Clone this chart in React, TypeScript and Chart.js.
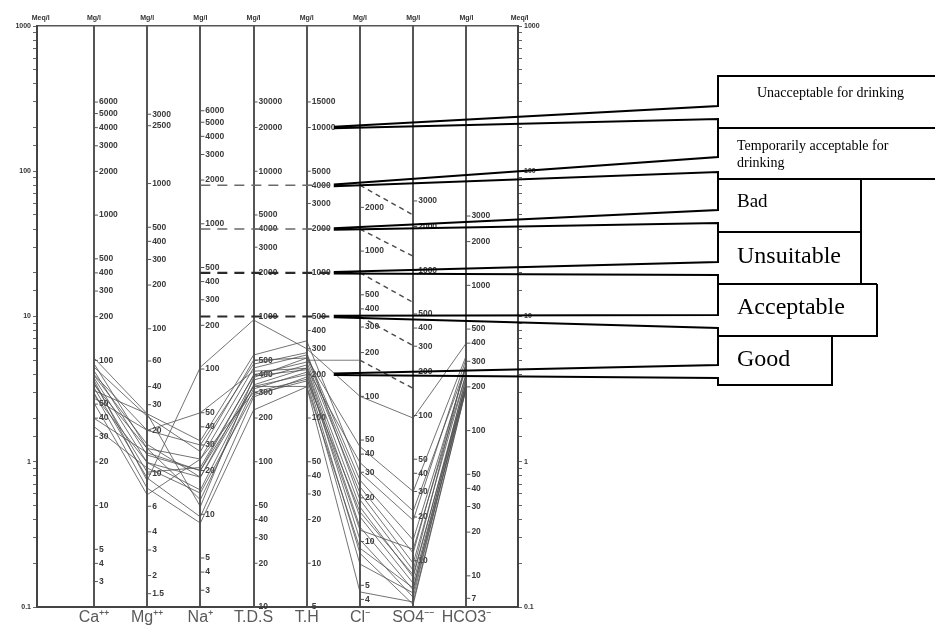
import React, { useEffect, useRef } from "react";
import { Chart, registerables } from "chart.js";

Chart.register(...registerables);

// ---------- categories & conversion (mg/l per plotted meq/l unit) ----------
const CATEGORIES = ["Ca⁺⁺", "Mg⁺⁺", "Na⁺", "T.D.S", "T.H", "Cl⁻", "SO4⁻⁻", "HCO3⁻"];
const MG_PER_UNIT = [20.04, 12.15, 23.0, 100, 50, 35.45, 48.03, 61.02];
// column positions on the x scale (1-based, in CATEGORIES order)
const COL_NA = 3;
const COL_TH = 5;
const COL_CL = 6;
const COL_SO4 = 7;

// ---------- sample concentrations (mg/l), one entry per water sample ----------
const CA = [104, 95, 90, 85, 80, 79, 76, 73, 70, 68, 65, 62, 60, 58, 55, 51, 40, 35];
const MG = [26, 15, 25, 13.5, 20, 16, 12, 9, 10.3, 15, 9.4, 26, 8, 12, 20, 7.2, 14, 11];
const NA = [32, 24, 27, 20, 30, 18, 14.7, 103, 21, 12.6, 9.6, 11.3, 8.7, 18, 50, 24, 20, 14];
const TDS = [543, 442, 500, 396, 470, 365, 338, 946, 390, 317, 279, 380, 227, 330, 420, 300, 330, 290];
const TH = [340, 272, 259, 243, 282, 232, 221, 300, 215, 207, 192, 259, 164, 199, 220, 185, 165, 180];
const CL = [30, 26.5, 23.8, 21.6, 19.4, 17.3, 14.8, 100, 12.6, 10.3, 8.3, 45, 4.5, 12, 35, 16, 9, 7];
const SO4 = [19, 13.9, 11.3, 9.6, 8.6, 7.7, 7.0, 96, 6.3, 5.6, 5.0, 30, 5.2, 12, 22, 8, 6.5, 6];
const HCO3 = [316, 274, 290, 249, 300, 230, 213, 401, 240, 220, 197, 330, 197, 250, 280, 213, 200, 205];

// ---------- column scale labels (mg/l) ----------
const CA_TICKS = [6000, 5000, 4000, 3000, 2000, 1000, 500, 400, 300, 200, 100, 50, 40, 30, 20, 10, 5, 4, 3];
const MG_TICKS = [3000, 2500, 1000, 500, 400, 300, 200, 100, 60, 40, 30, 20, 10, 6, 4, 3, 2, 1.5];
const NA_TICKS = [6000, 5000, 4000, 3000, 2000, 1000, 500, 400, 300, 200, 100, 50, 40, 30, 20, 10, 5, 4, 3];
const TDS_TICKS = [30000, 20000, 10000, 5000, 4000, 3000, 2000, 1000, 500, 400, 300, 200, 100, 50, 40, 30, 20, 10];
const TH_TICKS = [15000, 10000, 5000, 4000, 3000, 2000, 1000, 500, 400, 300, 200, 100, 50, 40, 30, 20, 10, 5];
const CL_TICKS = [2000, 1000, 500, 400, 300, 200, 100, 50, 40, 30, 20, 10, 5, 4];
const SO4_TICKS = [3000, 2000, 1000, 500, 400, 300, 200, 100, 50, 40, 30, 20, 10];
const HCO3_TICKS = [3000, 2000, 1000, 500, 400, 300, 200, 100, 50, 40, 30, 20, 10, 7];
const COLUMN_TICKS = [CA_TICKS, MG_TICKS, NA_TICKS, TDS_TICKS, TH_TICKS, CL_TICKS, SO4_TICKS, HCO3_TICKS];

// ---------- quality class boundaries (meq/l positions) ----------
const LEVEL_LINES = [80, 40, 20, 10]; // horizontal dashed, Na -> T.H
const CL_BOUNDS = [80, 40, 20, 10, 5];
const SO4_BOUNDS = [50, 26, 12.5, 6.3, 3.2];
const GOOD_LEVEL = 5;
const POINTER_LEVELS = [200, 80, 40, 20, 10, 4]; // T.H scale points of the class callouts
const CLASS_LABELS = [
  ["Unacceptable for drinking"],
  ["Temporarily acceptable for", "drinking"],
  ["Bad"],
  ["Unsuitable"],
  ["Acceptable"],
  ["Good"],
];

// ---------- callout box layout (pixels) ----------
const BOX_LEFT = 718;
const POINTER_OFFSET = 27;
const BOX_LAYOUT = [
  { top: 76, upper: 106, lower: 119, bottom: 128, right: 945, size: 14, tx: 757, ty: [93] },
  { top: 128, upper: 157, lower: 172, bottom: 179, right: 945, size: 14, tx: 737, ty: [146, 163] },
  { top: 179, upper: 210, lower: 223, bottom: 232, right: 861, size: 19, tx: 737, ty: [202] },
  { top: 232, upper: 262, lower: 275, bottom: 284, right: 861, size: 24, tx: 737, ty: [257] },
  { top: 284, upper: 315, lower: 328, bottom: 336, right: 877, size: 24, tx: 737, ty: [308] },
  { top: 336, upper: 365, lower: 378, bottom: 385, right: 832, size: 24, tx: 737, ty: [360] },
];

const fmt = (v: number) => String(v);
const isDecade = (v: number) => Math.abs(Math.log10(v) - Math.round(Math.log10(v))) < 1e-6;

const columnTicksPlugin = {
  id: "columnTicks",
  beforeDatasetsDraw(chart: any) {
    const { ctx } = chart;
    const xs = chart.scales.x;
    const ys = chart.scales.y;
    ctx.save();
    ctx.font = "bold 8.5px Arial, 'Liberation Sans', sans-serif";
    ctx.fillStyle = "#3a3a3a";
    ctx.strokeStyle = "#555";
    ctx.lineWidth = 1;
    ctx.textBaseline = "middle";
    ctx.textAlign = "left";
    COLUMN_TICKS.forEach((ticks, c) => {
      const x = xs.getPixelForValue(c + 1);
      ticks.forEach((v) => {
        const y = ys.getPixelForValue(v / MG_PER_UNIT[c]);
        ctx.beginPath();
        ctx.moveTo(x, y);
        ctx.lineTo(x + 4, y);
        ctx.stroke();
        ctx.fillText(fmt(v), x + 5, y);
      });
    });
    ctx.restore();
  },
};

const calloutPlugin = {
  id: "callouts",
  afterDraw(chart: any) {
    const { ctx } = chart;
    const xs = chart.scales.x;
    const ys = chart.scales.y;
    const px = xs.getPixelForValue(COL_TH) + POINTER_OFFSET;
    ctx.save();
    ctx.strokeStyle = "#000";
    ctx.lineWidth = 2;
    ctx.lineJoin = "miter";
    BOX_LAYOUT.forEach((b, i) => {
      const py = ys.getPixelForValue(POINTER_LEVELS[i]);
      ctx.beginPath();
      ctx.moveTo(b.right, b.top);
      ctx.lineTo(BOX_LEFT, b.top);
      ctx.lineTo(BOX_LEFT, b.upper);
      ctx.lineTo(px, py - 0.8);
      ctx.moveTo(px, py + 0.8);
      ctx.lineTo(BOX_LEFT, b.lower);
      ctx.lineTo(BOX_LEFT, b.bottom);
      ctx.lineTo(b.right, b.bottom);
      if (b.right < 935) ctx.lineTo(b.right, b.top);
      ctx.stroke();
      ctx.fillStyle = "#000";
      ctx.font = `${b.size}px 'Liberation Serif', 'Times New Roman', serif`;
      ctx.textBaseline = "middle";
      ctx.textAlign = "left";
      CLASS_LABELS[i].forEach((t, k) => ctx.fillText(t, b.tx, b.ty[k]));
    });
    ctx.restore();
  },
};

export default function App() {
  const ref = useRef<HTMLCanvasElement>(null);

  useEffect(() => {
    const canvas = ref.current;
    if (!canvas) return;

    const samples = CA.map((_, i) => [CA[i], MG[i], NA[i], TDS[i], TH[i], CL[i], SO4[i], HCO3[i]]);
    const sampleSets = samples.map((row, i) => ({
      label: `Sample ${i + 1}`,
      data: row.map((mg, c) => ({ x: c + 1, y: mg / MG_PER_UNIT[c] })),
      borderColor: "rgba(80,80,80,0.8)",
      borderWidth: 1,
      pointRadius: 0,
      showLine: true,
      tension: 0,
    }));

    const levelSets = LEVEL_LINES.map((v, i) => ({
      label: `level ${v}`,
      data: [
        { x: COL_NA, y: v },
        { x: i === LEVEL_LINES.length - 1 ? COL_CL : COL_TH + 0.45, y: v },
      ],
      borderColor: i >= 2 ? "#2a2a2a" : "#6a6a6a",
      borderWidth: i >= 2 ? 2.2 : 1.5,
      borderDash: [10, 7],
      pointRadius: 0,
      showLine: true,
    }));

    const diagSets = CL_BOUNDS.map((v, i) => ({
      label: `Cl-SO4 ${v}`,
      data: [
        { x: COL_CL, y: v },
        { x: COL_SO4, y: SO4_BOUNDS[i] },
      ],
      borderColor: "#4a4a4a",
      borderWidth: 1.4,
      borderDash: [5, 4],
      pointRadius: 0,
      showLine: true,
    }));

    const goodSet = {
      label: "good level",
      data: [
        { x: COL_TH, y: GOOD_LEVEL },
        { x: COL_CL, y: GOOD_LEVEL },
      ],
      borderColor: "rgba(90,90,90,0.8)",
      borderWidth: 1,
      pointRadius: 0,
      showLine: true,
    };

    const tickFont = { size: 7, weight: "bold" as const, family: "Arial, 'Liberation Sans', sans-serif" };
    const yTicks = {
      autoSkip: false,
      font: tickFont,
      color: "#333",
      padding: 2,
      callback: (v: any) => (isDecade(Number(v)) ? String(Number(v)) : ""),
    };

    const chart = new Chart(canvas, {
      type: "scatter",
      data: { datasets: [...sampleSets, ...levelSets, ...diagSets, goodSet] as any },
      options: {
        animation: false,
        responsive: false,
        events: [],
        layout: { padding: 0 },
        plugins: { legend: { display: false }, tooltip: { enabled: false } },
        scales: {
          x: {
            type: "linear",
            position: "bottom",
            min: -0.07,
            max: 8.97,
            afterBuildTicks: (s: any) => {
              s.ticks = CATEGORIES.map((_, i) => ({ value: i + 1 }));
            },
            afterFit: (s: any) => {
              s.height = 25;
            },
            ticks: {
              autoSkip: false,
              maxRotation: 0,
              padding: 1,
              color: "#5a5a5a",
              font: { size: 16, family: "Arial, 'Liberation Sans', sans-serif" },
              callback: (v: any) => CATEGORIES[Math.round(Number(v)) - 1] ?? "",
            },
            grid: { color: "#555", lineWidth: 2, drawTicks: false },
            border: { color: "#444", width: 2 },
          },
          xTop: {
            type: "linear",
            position: "top",
            min: -0.07,
            max: 8.97,
            afterBuildTicks: (s: any) => {
              s.ticks = [0, 1, 2, 3, 4, 5, 6, 7, 8, 9].map((v) => ({ value: v }));
            },
            afterFit: (s: any) => {
              s.height = 26;
            },
            ticks: {
              autoSkip: false,
              maxRotation: 0,
              padding: 4,
              color: "#333",
              font: tickFont,
              callback: (v: any) => (Number(v) === 0 || Number(v) === 9 ? "Meq/l" : "Mg/l"),
            },
            grid: { drawOnChartArea: false, drawTicks: false },
            border: { color: "#555", width: 1.5 },
          },
          y: {
            type: "logarithmic",
            position: "left",
            min: 0.1,
            max: 1000,
            afterFit: (s: any) => {
              s.width = 37;
            },
            ticks: yTicks as any,
            grid: { drawOnChartArea: false, tickLength: 4, color: "#666", lineWidth: 1 },
            border: { color: "#444", width: 2 },
          },
          yR: {
            type: "logarithmic",
            position: "right",
            min: 0.1,
            max: 1000,
            afterFit: (s: any) => {
              s.width = 417;
            },
            ticks: yTicks as any,
            grid: { drawOnChartArea: false, tickLength: 4, color: "#666", lineWidth: 1 },
            border: { color: "#444", width: 2 },
          },
        },
      },
      plugins: [columnTicksPlugin, calloutPlugin],
    });

    return () => chart.destroy();
  }, []);

  return (
    <div style={{ position: "absolute", left: 0, top: 0, width: 935, height: 632, background: "#fff" }}>
      <canvas ref={ref} width={935} height={632} style={{ width: 935, height: 632, display: "block" }} />
    </div>
  );
}
